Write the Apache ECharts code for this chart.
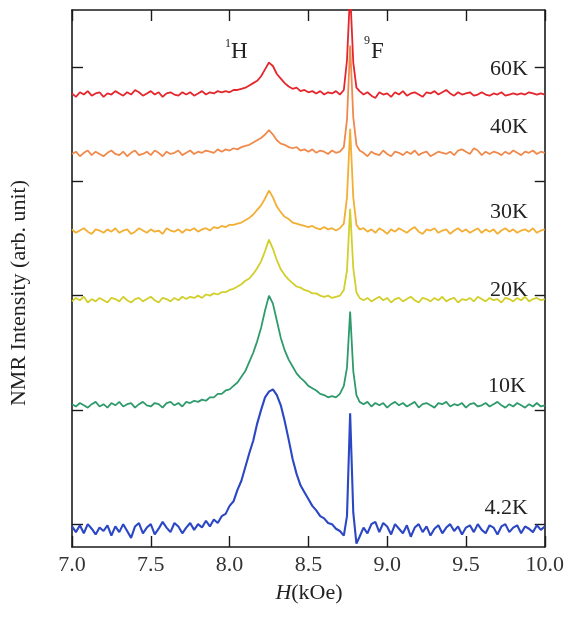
<!DOCTYPE html>
<html><head><meta charset="utf-8">
<script src="https://cdn.jsdelivr.net/npm/echarts@6/dist/echarts.min.js"></script>
<style>html,body{margin:0;padding:0;background:#fff}#c{width:567px;height:622px}</style>
</head><body><div id="c"></div><script>
// Field values (kOe)
const fieldKOe = [
7.000,7.025,7.050,7.075,7.100,7.125,7.150,7.175,7.200,7.225,
7.250,7.275,7.300,7.325,7.350,7.375,7.400,7.425,7.450,7.475,
7.500,7.525,7.550,7.575,7.600,7.625,7.650,7.675,7.700,7.725,
7.750,7.775,7.800,7.825,7.850,7.875,7.900,7.925,7.950,7.975,
8.000,8.025,8.050,8.075,8.100,8.125,8.150,8.175,8.200,8.225,
8.250,8.275,8.300,8.325,8.350,8.375,8.400,8.425,8.450,8.475,
8.500,8.525,8.550,8.575,8.600,8.625,8.650,8.675,8.700,
8.725,8.745,8.765,8.785,8.805,8.825,
8.850,8.875,8.900,8.925,8.950,8.975,9.000,9.025,9.050,9.075,
9.100,9.125,9.150,9.175,9.200,9.225,9.250,9.275,9.300,9.325,
9.350,9.375,9.400,9.425,9.450,9.475,9.500,9.525,9.550,9.575,
9.600,9.625,9.650,9.675,9.700,9.725,9.750,9.775,9.800,9.825,
9.850,9.875,9.900,9.925,9.950,9.975,10.000];

const temps = ['4.2K','10K','20K','30K','40K','60K'];
const offsets = [-0.05, 1.04, 1.96, 2.56, 3.24, 3.76];
const colors = ['#2b47c4','#2f9a6c','#d2cf2c','#f3ae34','#f08a4c','#e5262c'];

const i4_2K = [
0.03,-0.02,0.04,-0.03,0.05,0.01,-0.04,0.02,-0.01,0.04,
-0.05,0.03,-0.02,0.05,-0.01,-0.07,0.03,0.06,-0.03,0.02,
0.05,-0.04,0.01,0.07,0.02,-0.02,0.06,0.03,-0.03,0.02,
0.06,0.00,0.05,0.02,0.08,0.03,0.09,0.06,0.12,0.14,
0.21,0.25,0.35,0.43,0.55,0.67,0.78,0.93,1.05,1.16,
1.21,1.23,1.18,1.09,0.95,0.79,0.62,0.49,0.39,0.33,
0.27,0.21,0.17,0.12,0.10,0.06,0.05,0.01,-0.01,
-0.05,0.12,1.02,0.15,-0.12,-0.06,
0.02,-0.03,0.05,0.07,-0.02,0.06,0.03,-0.04,0.05,0.01,
-0.03,0.04,-0.06,0.02,0.05,-0.02,0.03,-0.05,0.01,0.04,
-0.03,0.02,0.05,-0.01,0.03,-0.04,0.02,0.04,-0.02,0.05,
0.00,-0.03,0.04,0.02,-0.04,0.03,0.05,-0.02,0.02,0.04,
-0.03,0.03,0.01,-0.02,0.04,0.00,0.03];

const i10K = [
0.01,-0.01,0.02,0.00,-0.02,0.01,0.03,-0.01,0.01,-0.02,
0.02,0.00,0.03,-0.01,0.01,0.02,-0.02,0.01,0.03,0.00,
-0.01,0.02,0.01,-0.02,0.02,0.03,0.00,0.02,-0.01,0.03,
0.02,0.04,0.03,0.05,0.04,0.07,0.07,0.10,0.10,0.13,
0.14,0.17,0.20,0.25,0.30,0.38,0.46,0.56,0.68,0.83,
0.96,0.89,0.74,0.59,0.48,0.40,0.34,0.28,0.24,0.21,
0.17,0.15,0.13,0.10,0.09,0.07,0.08,0.07,0.10,
0.17,0.33,0.82,0.30,0.09,0.03,
0.01,0.03,-0.01,0.02,0.00,0.02,-0.02,0.01,0.03,0.00,
0.02,-0.01,0.01,0.03,-0.02,0.01,0.02,0.00,-0.02,0.02,
0.01,0.03,-0.01,0.01,0.00,0.02,-0.02,0.01,0.02,-0.01,
0.00,0.02,-0.01,0.01,0.03,0.00,-0.02,0.01,-0.01,0.02,
0.00,-0.02,0.01,-0.01,0.02,-0.01,0.00];

const i20K = [
-0.01,0.02,0.00,0.03,-0.02,0.01,-0.01,0.02,0.00,-0.02,
0.02,0.01,-0.01,0.03,0.00,-0.02,0.01,0.02,-0.01,0.01,
0.03,0.00,-0.02,0.02,0.01,-0.01,0.02,0.00,0.03,0.01,
0.03,0.02,0.04,0.02,0.05,0.04,0.06,0.05,0.07,0.07,
0.09,0.10,0.12,0.14,0.17,0.19,0.23,0.28,0.34,0.43,
0.53,0.45,0.35,0.27,0.22,0.18,0.15,0.12,0.11,0.09,
0.08,0.06,0.06,0.04,0.03,0.04,0.02,0.03,0.04,
0.09,0.26,0.80,0.28,0.07,0.02,
0.00,0.02,-0.01,0.01,0.03,0.00,0.02,-0.02,0.01,0.02,
-0.01,0.01,0.03,0.00,-0.02,0.02,0.01,-0.01,0.02,0.00,
0.03,-0.01,0.01,0.02,-0.02,0.01,0.00,0.02,-0.01,0.03,
0.01,-0.01,0.02,0.00,0.01,-0.02,0.02,0.01,-0.01,0.02,
0.00,0.03,-0.01,0.01,0.02,0.00,0.01];

const i30K = [
0.02,-0.01,0.01,0.03,0.00,-0.02,0.02,0.01,-0.01,0.02,
0.00,0.03,-0.01,0.01,0.02,-0.02,0.00,0.03,0.01,-0.01,
0.02,0.00,0.01,-0.02,0.03,0.01,0.00,0.02,-0.01,0.02,
0.01,0.03,0.00,0.02,0.03,0.01,0.04,0.03,0.05,0.04,
0.06,0.06,0.07,0.08,0.10,0.12,0.15,0.19,0.23,0.29,
0.36,0.30,0.22,0.17,0.13,0.11,0.08,0.07,0.06,0.05,
0.04,0.05,0.03,0.02,0.04,0.02,0.03,0.01,0.03,
0.07,0.30,0.90,0.30,0.06,0.02,
0.03,0.00,0.02,-0.01,0.03,0.01,-0.02,0.02,0.00,0.03,
0.01,-0.01,0.02,0.04,0.00,-0.02,0.02,0.01,0.03,-0.01,
0.01,0.02,-0.02,0.01,0.03,0.00,0.02,-0.01,0.01,0.03,
-0.01,0.02,0.00,0.02,-0.02,0.01,0.03,0.00,0.02,-0.01,
0.01,0.02,0.00,0.03,-0.01,0.01,0.02];

const i40K = [
0.00,0.02,-0.02,0.01,0.03,-0.01,0.02,0.00,-0.02,0.01,
0.03,0.00,-0.01,0.02,-0.02,0.01,0.03,-0.01,0.00,0.02,
-0.01,0.03,0.01,-0.02,0.02,0.00,0.01,0.03,-0.01,0.01,
0.03,0.00,0.02,0.01,0.03,0.02,0.01,0.04,0.02,0.04,
0.03,0.05,0.04,0.06,0.07,0.08,0.10,0.12,0.14,0.17,
0.21,0.17,0.12,0.09,0.08,0.06,0.05,0.06,0.03,0.04,
0.02,0.04,0.01,0.03,0.02,0.00,0.03,0.01,0.02,
0.06,0.30,0.95,0.32,0.08,0.03,
0.01,-0.02,0.02,0.00,-0.01,0.03,0.00,-0.02,0.02,0.01,
-0.01,0.02,0.00,0.03,-0.01,0.01,0.02,-0.02,0.00,0.02,
0.01,0.00,0.02,-0.01,0.03,0.04,0.02,0.00,0.05,0.03,
-0.01,0.02,0.00,0.02,0.01,-0.01,0.02,0.00,0.03,0.01,
-0.01,0.02,0.01,0.03,0.00,0.02,0.01];

const i60K = [
0.01,-0.02,0.02,0.00,0.03,-0.01,0.01,0.02,-0.02,0.01,
0.00,0.03,0.01,-0.01,0.02,0.00,0.04,0.02,-0.01,0.01,
0.03,0.00,0.02,-0.02,0.01,0.02,0.00,-0.01,0.02,0.00,
0.02,-0.01,0.01,0.03,0.00,0.02,0.01,0.03,0.02,0.03,
0.02,0.04,0.04,0.05,0.06,0.08,0.10,0.12,0.16,0.22,
0.28,0.25,0.18,0.14,0.10,0.07,0.05,0.06,0.03,0.04,
0.02,0.03,0.01,0.03,0.00,0.02,0.01,0.03,0.00,
0.04,0.30,0.90,0.28,0.06,0.03,
0.00,0.02,-0.01,-0.03,0.02,0.00,0.01,-0.02,0.02,0.00,
0.03,-0.01,0.01,0.02,0.00,-0.02,0.02,0.01,0.03,0.00,
0.02,0.04,0.01,-0.01,0.02,0.00,0.01,0.02,-0.01,0.00,
0.02,0.00,-0.01,0.01,0.00,0.02,-0.01,0.00,0.01,0.00,
0.01,0.00,0.02,0.01,0.00,0.01,0.00];

const intensities = [i4_2K, i10K, i20K, i30K, i40K, i60K];
const yTickValues = [0, 1, 2, 3, 4];

const serif = '"Liberation Serif", "DejaVu Serif", serif';
const chart = echarts.init(document.getElementById('c'), null, {renderer: 'canvas'});

const series = temps.map((t, k) => ({
  name: t, type: 'line', showSymbol: false, symbol: 'none', clip: true,
  lineStyle: {color: colors[k], width: k === 0 ? 2.1 : 1.8},
  itemStyle: {color: colors[k]},
  data: fieldKOe.map((x, i) => [x, +(offsets[k] + intensities[k][i]).toFixed(3)])
}));

const tLabelPos = [[528, 508], [526, 386], [528, 290], [528, 212], [528, 127], [528, 69]];
const graphics = temps.map((t, k) => ({
  type: 'text', right: 567 - tLabelPos[k][0], top: tLabelPos[k][1] - 11,
  style: {text: t, font: '22px ' + serif, fill: '#222'}
}));
graphics.push(
  {type: 'text', left: 225, top: 38, style: {text: '1', font: '12px ' + serif, fill: '#222'}},
  {type: 'text', left: 231, top: 40, style: {text: 'H', font: '23px ' + serif, fill: '#222'}},
  {type: 'text', left: 364, top: 35, style: {text: '9', font: '12px ' + serif, fill: '#222'}},
  {type: 'text', left: 371, top: 40, style: {text: 'F', font: '23px ' + serif, fill: '#222'}},
  {type: 'text', x: 19, y: 293, rotation: Math.PI / 2,
   style: {text: 'NMR Intensity (arb. unit)', font: '22px ' + serif, fill: '#222', textAlign: 'center', textVerticalAlign: 'middle'}},
  {type: 'text', x: 309, y: 593,
   style: {rich: {i: {font: 'italic 22px ' + serif, fill: '#222'}, n: {font: '22px ' + serif, fill: '#222'}},
           text: '{i|H}{n|(kOe)}', textAlign: 'center', textVerticalAlign: 'middle'}}
);

const axisLine = {show: true, onZero: false, lineStyle: {color: '#1a1a1a', width: 1.6}};
const tickStyle = {show: true, inside: true, length: 11, lineStyle: {color: '#1a1a1a', width: 1.4}};

chart.setOption({
  animation: false,
  backgroundColor: '#fff',
  grid: {left: 72, right: 20, top: 10, bottom: 75},
  xAxis: [
    {type: 'value', min: 7, max: 10, interval: 0.5, position: 'bottom',
     axisLine, axisTick: tickStyle, splitLine: {show: false},
     axisLabel: {formatter: v => v.toFixed(1), fontFamily: serif, fontSize: 22, color: '#333', margin: 7}},
    {type: 'value', min: 7, max: 10, interval: 0.5, position: 'top',
     axisLine, axisTick: tickStyle, splitLine: {show: false}, axisLabel: {show: false}}
  ],
  yAxis: [
    {type: 'value', min: -0.2, max: 4.5, position: 'left',
     axisLine, axisTick: Object.assign({customValues: yTickValues}, tickStyle),
     axisLabel: {show: false}, splitLine: {show: false}},
    {type: 'value', min: -0.2, max: 4.5, position: 'right',
     axisLine, axisTick: Object.assign({customValues: yTickValues}, tickStyle, {length: 10}),
     axisLabel: {show: false}, splitLine: {show: false}}
  ],
  series,
  graphic: graphics
});
</script></body></html>
